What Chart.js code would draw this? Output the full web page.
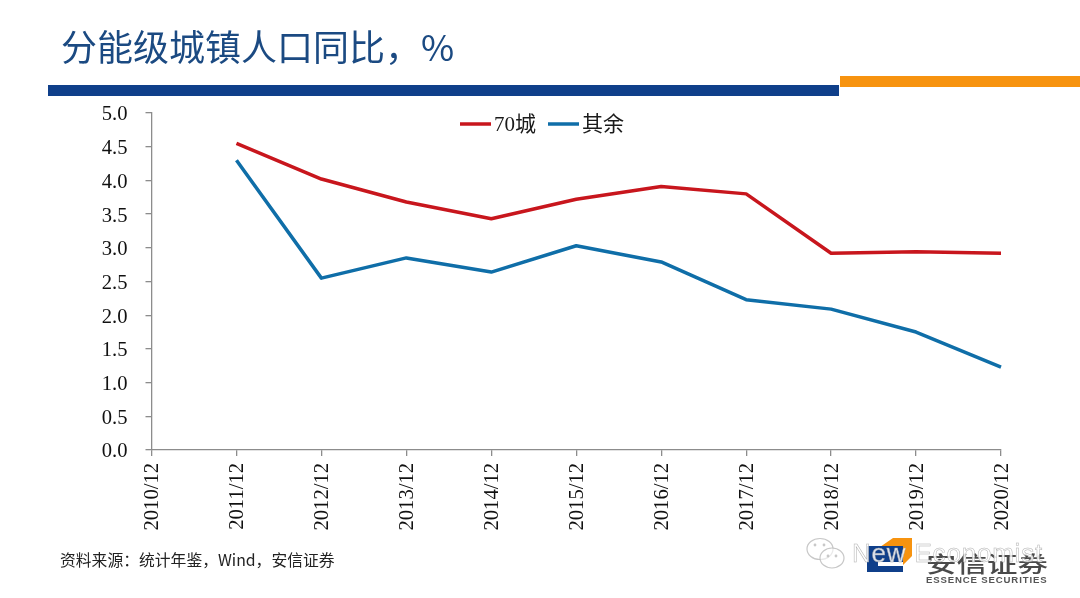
<!DOCTYPE html>
<html lang="zh">
<head>
<meta charset="utf-8">
<script src="https://cdn.jsdelivr.net/npm/chart.js@4"></script>
<style>
html,body{margin:0;padding:0;background:#fff;width:1080px;height:598px;overflow:hidden}
#wrap{position:relative;width:1080px;height:598px;font-family:"Noto Sans CJK SC","Noto Sans",sans-serif}
canvas{position:absolute;left:0;top:0}
.abs{position:absolute;white-space:nowrap}
#title{left:61px;top:22px;font-size:36px;line-height:46px;color:#1B4A82;font-weight:400}
#barBlue{left:48px;top:85px;width:791px;height:11px;background:#0F3F8A}
#barOrange{left:840px;top:76px;width:240px;height:11px;background:#F7930F}
#source{left:60px;top:549px;font-size:15.8px;line-height:22px;color:#222}
#mark{left:867px;top:538px;width:46px;height:34px}
#cn{left:926px;top:546px;font-size:30.5px;line-height:34px;color:#4a4a4a;font-weight:500;letter-spacing:0;transform:scaleY(.72);transform-origin:left center}
#en{left:926px;top:574px;font-size:9.6px;line-height:12px;color:#555;font-weight:700;font-family:"Liberation Sans",sans-serif;letter-spacing:.85px}
#wm{left:852px;top:536px;font-size:26px;line-height:34px;color:rgba(255,255,255,.85);-webkit-text-stroke:.5px rgba(165,165,165,.85);font-family:"Liberation Sans",sans-serif;font-weight:400;letter-spacing:.8px}
#wmIcon{left:805px;top:536px;width:42px;height:36px}
</style>
</head>
<body>
<div id="wrap">
  <canvas id="c" width="1080" height="598" style="width:1080px;height:598px"></canvas>
  <div class="abs" id="title">分能级城镇人口同比，%</div>
  <div class="abs" id="barBlue"></div>
  <div class="abs" id="barOrange"></div>
  <div class="abs" id="source">资料来源：统计年鉴，Wind，安信证券</div>
  <svg class="abs" id="mark" viewBox="0 0 46 34">
    <polygon points="13,9 26,0 45,0 45,18 36,27 36,8" fill="#F7930F"/>
    <rect x="0" y="8" width="36" height="26" fill="#0F3F8A"/>
    <rect x="11" y="24" width="25" height="4" fill="#fff"/>
  </svg>
  <div class="abs" id="cn">安信证券</div>
  <div class="abs" id="en">ESSENCE SECURITIES</div>
  <svg class="abs" id="wmIcon" viewBox="0 0 42 36" fill="rgba(255,255,255,.6)" stroke="rgba(185,185,185,.8)" stroke-width="1.2">
    <ellipse cx="15" cy="13" rx="13" ry="10.5"/>
    <ellipse cx="27" cy="22" rx="12" ry="10"/>
    <circle cx="10" cy="9" r=".8"/><circle cx="19" cy="9" r=".8"/>
    <circle cx="23" cy="20" r=".8"/><circle cx="31" cy="20" r=".8"/>
  </svg>
  <div class="abs" id="wm">New Economist</div>
</div>
<script>
const categories = ["2010/12","2011/12","2012/12","2013/12","2014/12","2015/12","2016/12","2017/12","2018/12","2019/12","2020/12"];
const city70 = [null,4.55,4.02,3.68,3.43,3.72,3.91,3.80,2.92,2.94,2.92];
const others = [null,4.30,2.55,2.85,2.64,3.03,2.79,2.23,2.09,1.75,1.23];
const seriesNames = ["70城","其余"];
const seriesColors = ["#C8161D","#0F6EA8"];
const FONT = "'Liberation Serif','Noto Sans CJK SC',serif";
const AXIS = "#8c8c8c";

const lineLegend = {
  id:"lineLegend",
  afterDraw(chart){
    const ctx = chart.ctx;
    ctx.save();
    ctx.font = "21px " + FONT;
    ctx.textBaseline = "middle";
    ctx.textAlign = "left";
    let x = 460;
    const y = 124;
    chart.data.datasets.forEach(ds=>{
      ctx.strokeStyle = ds.borderColor;
      ctx.lineWidth = 3.5;
      ctx.beginPath(); ctx.moveTo(x,y); ctx.lineTo(x+31,y); ctx.stroke();
      ctx.fillStyle = "#1a1a1a";
      ctx.fillText(ds.label, x+34, y+1);
      x += 34 + ctx.measureText(ds.label).width + 12;
    });
    ctx.restore();
  }
};

new Chart(document.getElementById("c"),{
  type:"line",
  data:{
    labels:categories,
    datasets:[
      {label:seriesNames[0],data:city70,borderColor:seriesColors[0],backgroundColor:seriesColors[0],borderWidth:3.5,pointRadius:0,tension:0,spanGaps:false,borderCapStyle:"butt",borderJoinStyle:"round"},
      {label:seriesNames[1],data:others,borderColor:seriesColors[1],backgroundColor:seriesColors[1],borderWidth:3.5,pointRadius:0,tension:0,spanGaps:false,borderCapStyle:"butt",borderJoinStyle:"round"}
    ]
  },
  options:{
    responsive:false,
    animation:false,
    layout:{padding:{left:0,top:113,right:79,bottom:0}},
    plugins:{legend:{display:false},title:{display:false},tooltip:{enabled:false}},
    scales:{
      x:{
        offset:false,
        afterFit(s){s.height=148;},
        grid:{display:true,drawOnChartArea:false,drawTicks:true,tickLength:6,color:AXIS,lineWidth:1.3},
        border:{display:true,color:AXIS,width:1.3},
        ticks:{minRotation:90,maxRotation:90,autoSkip:false,padding:7,labelOffset:1.5,color:"#111",font:{family:FONT,size:20.6}}
      },
      y:{
        min:0,max:5,
        afterFit(s){s.width=151.5;},
        grid:{display:true,drawOnChartArea:false,drawTicks:true,tickLength:6,color:AXIS,lineWidth:1.3},
        border:{display:true,color:AXIS,width:1.3},
        ticks:{stepSize:0.5,padding:18,labelOffset:2,color:"#111",font:{family:FONT,size:20.6},callback:v=>v.toFixed(1)}
      }
    }
  },
  plugins:[lineLegend,{id:"bg",beforeDraw(ch){const c=ch.ctx;c.save();c.fillStyle="#fff";c.fillRect(0,0,ch.width,ch.height);c.restore();}}]
});
</script>
</body>
</html>
